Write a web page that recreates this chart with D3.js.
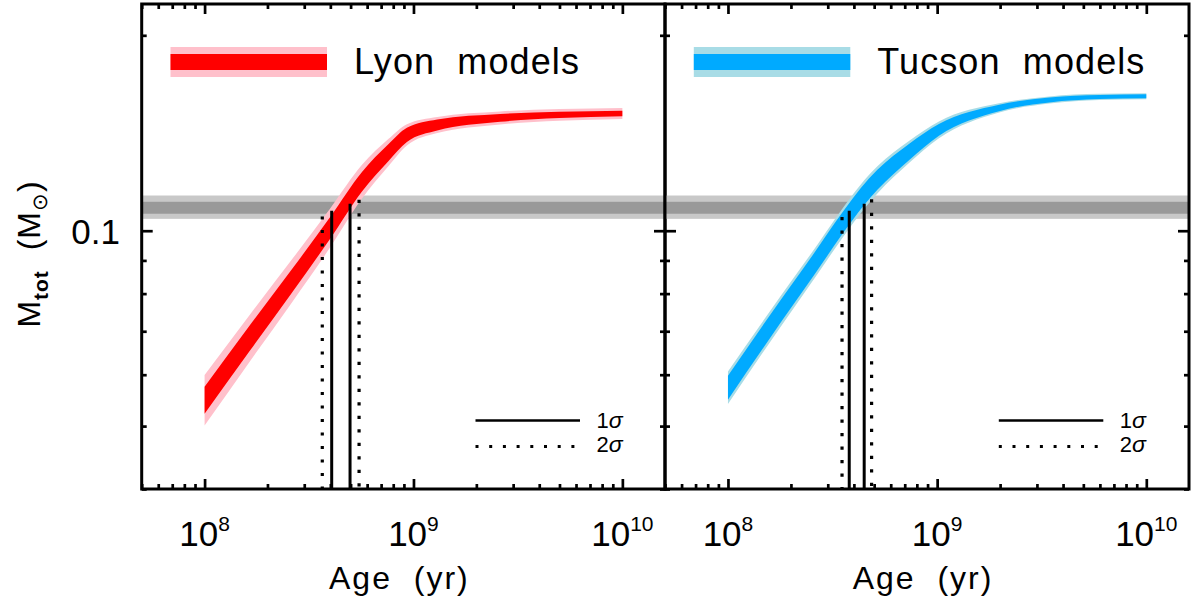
<!DOCTYPE html>
<html>
<head>
<meta charset="utf-8">
<script src="https://cdn.jsdelivr.net/npm/d3@7"></script>
<style>
  body { margin: 0; background: #fff; }
  svg { display: block; font-family: "Liberation Sans", Arial, sans-serif; }
</style>
</head>
<body>
<svg id="chart" width="1193" height="603"></svg>
<script>
//------ data ------
// Lyon models : age (yr), masse centrale (Msun), demi-largeur 1 sigma / 2 sigma (dex)
const lyonAge  = [1e8, 1.65e8, 2.65e8, 4.0e8, 5.67e8, 7.6e8, 9.3e8, 1.3e9, 2.6e9, 5.0e9, 1e10];
const lyonMass = [0.0548, 0.0684, 0.0841, 0.1011, 0.1190, 0.1320, 0.1405, 0.1455, 0.1492, 0.1508, 0.1516];
const lyonErr1 = [0.0208, 0.0195, 0.0180, 0.0167, 0.0150, 0.0130, 0.0110, 0.0085, 0.0060, 0.0048, 0.0042];
const lyonErr2 = [0.0390, 0.0360, 0.0330, 0.0300, 0.0260, 0.0210, 0.0165, 0.0125, 0.0100, 0.0090, 0.0085];

// Tucson models
const tucAge  = [1e8, 2.29e8, 5.18e8, 7.36e8, 1.02e9, 1.98e9, 3.44e9, 5.97e9, 1e10];
const tucMass = [0.0573, 0.0841, 0.1198, 0.1323, 0.1430, 0.1546, 0.1590, 0.1607, 0.1611];
const tucErr1 = [0.0185, 0.0170, 0.0154, 0.0125, 0.0090, 0.0050, 0.0038, 0.0032, 0.0030];
const tucErr2 = [0.0250, 0.0230, 0.0210, 0.0170, 0.0130, 0.0070, 0.0055, 0.0048, 0.0046];

// masse observee (bande grise)
const obsBand1 = [0.1062, 0.1108];
const obsBand2 = [0.1043, 0.1133];

// lignes verticales : [age, masse du sommet]
const lyonSig1 = [[4.06e8, 0.1073], [4.97e8, 0.1100]];
const lyonSig2 = [[3.66e8, 0.1052], [5.49e8, 0.1116]];
const tucSig1  = [[3.80e8, 0.1073], [4.48e8, 0.1100]];
const tucSig2  = [[3.51e8, 0.1050], [4.86e8, 0.1118]];

const xMajor = [1e8, 1e9, 1e10];
const xMajorExp = ["8", "9", "10"];
const yMajor = [0.1];
const yMajorLabels = ["0.1"];

//------ mise en page ------
const plotTop = 4, plotBottom = 489;
const xDomain = [5e7, 1.6e10], yDomain = [0.04, 0.2235];
const svg = d3.select("#chart");

const panels = [
    { x0: 141.7, x1: 665, name: "Lyon  models", age: lyonAge, mass: lyonMass, e1: lyonErr1, e2: lyonErr2,
      dark: "#ff0000", light: "#ffc0cb", s1: lyonSig1, s2: lyonSig2 },
    { x0: 665, x1: 1189, name: "Tucson  models", age: tucAge, mass: tucMass, e1: tucErr1, e2: tucErr2,
      dark: "#00aaff", light: "#a8dce6", s1: tucSig1, s2: tucSig2 }
];

const y = d3.scaleLog().domain(yDomain).range([plotBottom, plotTop]);

panels.forEach((p, i) => {
    const x = d3.scaleLog().domain(xDomain).range([p.x0, p.x1]);
    const g = svg.append("g");

    // clip
    const clipId = "clip" + i;
    svg.append("clipPath").attr("id", clipId)
        .append("rect").attr("x", p.x0).attr("y", plotTop).attr("width", p.x1 - p.x0).attr("height", plotBottom - plotTop);
    const inner = g.append("g").attr("clip-path", `url(#${clipId})`);

    // bande grise
    inner.append("rect")
        .attr("x", p.x0).attr("width", p.x1 - p.x0)
        .attr("y", y(obsBand2[1])).attr("height", y(obsBand2[0]) - y(obsBand2[1]))
        .attr("fill", "#c8c8c8");
    inner.append("rect")
        .attr("x", p.x0).attr("width", p.x1 - p.x0)
        .attr("y", y(obsBand1[1])).attr("height", y(obsBand1[0]) - y(obsBand1[1]))
        .attr("fill", "#999999");

    // courbes
    const idx = d3.range(p.age.length);
    const area = (err) => d3.area()
        .curve(d3.curveMonotoneX)
        .x(j => x(p.age[j]))
        .y0(j => y(p.mass[j] * Math.pow(10, -err[j])))
        .y1(j => y(p.mass[j] * Math.pow(10, err[j])));
    inner.append("path").attr("d", area(p.e2)(idx)).attr("fill", p.light);
    inner.append("path").attr("d", area(p.e1)(idx)).attr("fill", p.dark);

    // lignes verticales
    p.s1.forEach(d => {
        inner.append("line")
            .attr("x1", x(d[0])).attr("x2", x(d[0]))
            .attr("y1", plotBottom).attr("y2", y(d[1]))
            .attr("stroke", "#000").attr("stroke-width", 3);
    });
    p.s2.forEach(d => {
        inner.append("line")
            .attr("x1", x(d[0])).attr("x2", x(d[0]))
            .attr("y1", y(d[1])).attr("y2", plotBottom)
            .attr("stroke", "#000").attr("stroke-width", 3.2)
            .attr("stroke-dasharray", "3.2,10.3");
    });

    // axes (ticks vers l'interieur)
    const xMinor = x.ticks().filter(t => !xMajor.some(m => Math.abs(m - t) / m < 1e-6));
    const yMinor = y.ticks().filter(t => !yMajor.some(m => Math.abs(m - t) / m < 1e-6));
    const axes = [
        [d3.axisBottom(x).tickValues(xMajor).tickSize(-10), `translate(0,${plotBottom})`],
        [d3.axisBottom(x).tickValues(xMinor).tickSize(-5), `translate(0,${plotBottom})`],
        [d3.axisTop(x).tickValues(xMajor).tickSize(-10), `translate(0,${plotTop})`],
        [d3.axisTop(x).tickValues(xMinor).tickSize(-5), `translate(0,${plotTop})`],
        [d3.axisLeft(y).tickValues(yMajor).tickSize(-11), `translate(${p.x0},0)`],
        [d3.axisLeft(y).tickValues(yMinor).tickSize(-5), `translate(${p.x0},0)`],
        [d3.axisRight(y).tickValues(yMajor).tickSize(-11), `translate(${p.x1},0)`],
        [d3.axisRight(y).tickValues(yMinor).tickSize(-5), `translate(${p.x1},0)`]
    ];
    axes.forEach(a => {
        const ag = g.append("g").attr("transform", a[1])
            .call(a[0].tickFormat("").tickPadding(0));
        ag.select(".domain").remove();
        ag.selectAll(".tick line").attr("stroke", "#000").attr("stroke-width", 2.7);
    });

    // cadre
    g.append("rect")
        .attr("x", p.x0).attr("y", plotTop).attr("width", p.x1 - p.x0).attr("height", plotBottom - plotTop)
        .attr("fill", "none").attr("stroke", "#000").attr("stroke-width", 3);

    // labels x
    xMajor.forEach((v, k) => {
        const t = g.append("text")
            .attr("x", x(v)).attr("y", 546)
            .attr("text-anchor", "middle")
            .attr("font-size", 35);
        t.append("tspan").text("10");
        t.append("tspan").attr("dy", -15).attr("font-size", 21).text(xMajorExp[k]);
    });
    g.append("text")
        .attr("x", (p.x0 + p.x1) / 2 - 4).attr("y", 589)
        .attr("text-anchor", "middle")
        .attr("font-size", 32)
        .attr("letter-spacing", 2)
        .text("Age\u00a0\u00a0(yr)");

    // legende modele
    const lx = p.x0 + 28.8;
    g.append("rect").attr("x", lx).attr("y", 47).attr("width", 156.5).attr("height", 30).attr("fill", p.light);
    g.append("rect").attr("x", lx).attr("y", 54).attr("width", 156.5).attr("height", 16).attr("fill", p.dark);
    g.append("text")
        .attr("x", lx + 183.5).attr("y", 74)
        .attr("font-size", 36).attr("letter-spacing", 1.1)
        .text(p.name.replace(/ /g, "\u00a0"));

    // legende sigma
    const sx = p.x0 + 333.8;
    g.append("line").attr("x1", sx).attr("x2", sx + 104.5).attr("y1", 420.6).attr("y2", 420.6)
        .attr("stroke", "#000").attr("stroke-width", 2.5);
    g.append("line").attr("x1", sx).attr("x2", sx + 104.5).attr("y1", 446.4).attr("y2", 446.4)
        .attr("stroke", "#000").attr("stroke-width", 3).attr("stroke-dasharray", "3,10.7");
    ["1", "2"].forEach((n, k) => {
        const t = g.append("text")
            .attr("x", sx + 121).attr("y", 428 + k * 24)
            .attr("font-size", 22);
        t.append("tspan").text(n);
        t.append("tspan").attr("font-style", "italic").attr("font-size", 23).text("\u03c3");
    });
});

// labels y
yMajor.forEach((v, k) => {
    svg.append("text")
        .attr("x", 120).attr("y", y(v) + 13)
        .attr("text-anchor", "end")
        .attr("font-size", 35)
        .text(yMajorLabels[k]);
});

const yl = svg.append("text")
    .attr("transform", "translate(40,254) rotate(-90)")
    .attr("text-anchor", "middle")
    .attr("font-size", 32)
    .attr("letter-spacing", 1);
yl.append("tspan").text("M");
yl.append("tspan").attr("dy", 8).attr("font-size", 21).attr("font-weight", "bold").text("tot");
yl.append("tspan").attr("dy", -8).text("\u00a0\u00a0(M");
yl.append("tspan").attr("dy", 7).attr("font-size", 21).text("\u2299");
yl.append("tspan").attr("dy", -7).text(")");
</script>
</body>
</html>
